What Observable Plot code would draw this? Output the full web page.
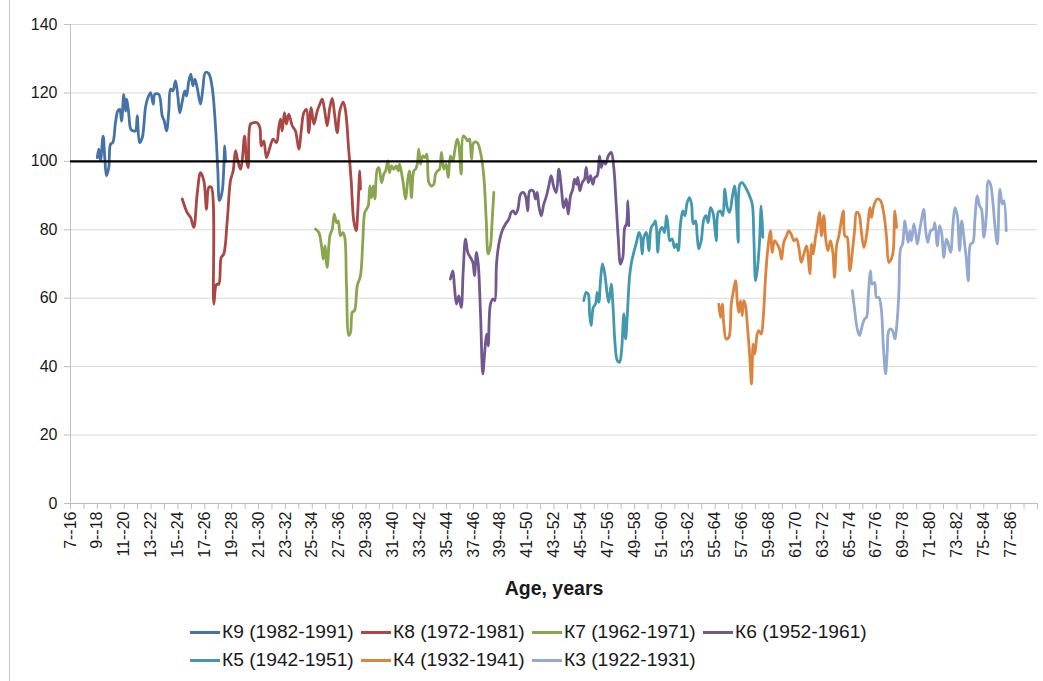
<!DOCTYPE html>
<html>
<head>
<meta charset="utf-8">
<script src="https://cdn.jsdelivr.net/npm/d3@7"></script>
<script src="https://cdn.jsdelivr.net/npm/@observablehq/plot@0.6"></script>
<style>
  html, body { margin: 0; padding: 0; background: #fff; }
  #wrap { position: relative; width: 1043px; height: 681px; overflow: hidden; font-family: "Liberation Sans", Arial, sans-serif; }
  #edge { position: absolute; left: 9px; top: 0; width: 1px; height: 681px; background: #c8c8c8; }
  #legend { position: absolute; left: 190px; top: 620px; display: grid; grid-template-columns: repeat(4, 171px); row-gap: 4px; font-size: 19.2px; color: #1a1a1a; }
  .item { display: flex; align-items: center; height: 24px; white-space: nowrap; }
  .sw { width: 30px; height: 3px; margin-right: 2px; }
</style>
</head>
<body>
<div id="wrap"><div id="chart"></div><div id="legend"></div><div id="edge"></div></div>
<script>
// ---- Tick labels (every other category is labelled) ----
const xLabels = ["7--16","9--18","11--20","13--22","15--24","17--26","19--28","21--30","23--32","25--34",
  "27--36","29--38","31--40","33--42","35--44","37--46","39--48","41--50","43--52","45--54","47--56",
  "49--58","51--60","53--62","55--64","57--66","59--68","61--70","63--72","65--74","67--76","69--78",
  "71--80","73--82","75--84","77--86"];
const yTicks = [0, 20, 40, 60, 80, 100, 120, 140];
const xFirst = 7, xLast = 79; // first and last category on the axis

// ---- Series names and colours ----
const seriesNames = ["К9 (1982-1991)","К8 (1972-1981)","К7 (1962-1971)","К6 (1952-1961)","К5 (1942-1951)","К4 (1932-1941)","К3 (1922-1931)"];
const seriesColors = ["#4572A7","#AA4643","#89A54E","#71588F","#4198AF","#DB843D","#93A9CF"];

// ---- Series values: [age position, value] ----
const k9 = [[8.99,101.1],[9.11,103.6],[9.23,100.1],[9.43,107.4],[9.55,101.1],[9.68,95.8],[9.85,98.2],[9.98,105],[10.15,105.5],[10.35,111.3],[10.52,114.7],[10.67,115.2],[10.80,111.8],[10.97,119.6],[11.10,114.7],[11.19,118.2],[11.34,113.8],[11.49,109.4],[11.67,108.9],[11.84,108.9],[11.97,113.3],[12.14,105.5],[12.34,106.9],[12.58,115.7],[12.73,118.2],[12.96,120.1],[13.16,116.7],[13.28,119.6],[13.57,119.6],[13.83,113.3],[13.98,111.8],[14.15,108.9],[14.32,114.7],[14.45,121.1],[14.62,120.6],[14.82,123.5],[14.99,119.1],[15.14,114.2],[15.32,117.5],[15.51,120.6],[15.64,119.1],[15.81,123.5],[15.96,125.5],[16.11,122.1],[16.26,124],[16.43,121.6],[16.68,116.7],[16.85,121.1],[17.05,126],[17.30,125.6],[17.55,121.6],[17.80,109.9],[17.97,97.2],[18.09,88.5],[18.30,91.4],[18.49,104.5],[18.54,100]];
const k8 = [[15.32,89],[15.69,85],[15.94,83.6],[16.18,80.7],[16.43,90.4],[16.68,96.7],[16.93,94.3],[17.13,86],[17.30,92.4],[17.48,92.4],[17.67,58.3],[17.87,64.1],[18.04,64.1],[18.22,71.9],[18.41,72.9],[18.67,82.6],[18.91,94.3],[19.11,97.2],[19.29,103.1],[19.46,100.1],[19.66,97.7],[19.78,100.1],[19.96,107.4],[20.11,100.1],[20.23,98.2],[20.40,110.9],[20.65,111.3],[20.90,111.3],[21.10,109.9],[21.20,104.5],[21.39,106],[21.59,101.1],[21.84,104],[22.09,106.5],[22.34,105.5],[22.51,109.9],[22.64,112.3],[22.76,108.9],[22.93,114.2],[23.08,110.9],[23.25,113.8],[23.51,110.4],[23.75,108.9],[24.00,103.6],[24.18,108.9],[24.37,114.2],[24.57,115.2],[24.74,108.4],[24.92,115.7],[25.12,110.9],[25.37,114.7],[25.56,116.7],[25.74,118.2],[25.91,115.2],[26.11,110.4],[26.31,115.7],[26.49,118.4],[26.66,113.8],[26.86,108.4],[27.05,114.7],[27.31,117.3],[27.48,114.7],[27.72,103.1],[27.90,94.3],[28.09,82.6],[28.27,79.7],[28.39,85.5],[28.54,97.2],[28.59,91.9]];
const k7 = [[25.24,80.2],[25.49,79.2],[25.69,75.3],[25.82,71.4],[25.94,75.3],[26.11,69],[26.31,78.2],[26.49,80.2],[26.64,84.6],[26.81,82.1],[26.93,82.6],[27.10,78.2],[27.28,79.2],[27.42,77.8],[27.55,63.6],[27.72,49.1],[27.85,50],[27.98,55.9],[28.15,56.4],[28.35,63.6],[28.59,66.6],[28.76,76.3],[28.91,85.1],[29.04,86],[29.17,87],[29.29,92.8],[29.41,89.4],[29.54,92.8],[29.66,89],[29.84,97.7],[29.96,98.2],[30.16,93.8],[30.33,96.3],[30.46,97.2],[30.63,100.1],[30.75,96.7],[30.90,98.7],[31.07,97.7],[31.25,98.7],[31.40,97.2],[31.50,99.2],[31.62,97.2],[31.77,93.8],[31.94,89],[32.12,94.8],[32.24,97.2],[32.39,89.4],[32.56,97.2],[32.69,97.7],[32.82,99.2],[32.93,103.6],[33.06,99.2],[33.23,101.6],[33.38,101.1],[33.53,102.1],[33.68,93.8],[33.88,92.8],[34.05,93.3],[34.18,96.3],[34.33,97.2],[34.48,97.7],[34.62,102.6],[34.80,97.7],[34.97,99.2],[35.12,95.3],[35.29,101.6],[35.47,100.1],[35.61,103.1],[35.79,106.5],[35.91,105],[36.09,96.3],[36.24,107.4],[36.41,106.9],[36.58,106],[36.71,106.5],[36.86,100.6],[37.03,105.5],[37.28,105.5],[37.53,102.6],[37.77,95.8],[37.95,83.1],[38.10,72.9],[38.27,75.3],[38.40,83.1],[38.52,90.9]];
const k6 = [[35.29,65.6],[35.47,68],[35.59,63.2],[35.74,58.3],[35.91,60.7],[36.09,57.3],[36.24,68],[36.41,77.3],[36.58,73.4],[36.78,71.9],[36.96,70.5],[37.08,66.6],[37.23,73.4],[37.36,70],[37.53,55.4],[37.70,37.9],[37.85,44.7],[37.98,49.5],[38.10,46.1],[38.27,58.3],[38.47,59.8],[38.59,59.3],[38.72,70],[38.89,75.8],[39.14,79.7],[39.39,81.7],[39.64,83.1],[39.81,85.1],[39.96,85.5],[40.13,84.6],[40.31,86],[40.51,90.4],[40.71,90.9],[40.88,89.9],[41.05,85.5],[41.20,91.4],[41.45,91.4],[41.62,89],[41.75,90.9],[41.87,87],[42.05,84.1],[42.24,87.5],[42.44,89.9],[42.61,92.8],[42.79,95.8],[42.99,92.4],[43.17,90.9],[43.36,97.7],[43.54,92.4],[43.73,86.5],[43.91,89],[44.06,84.6],[44.23,89.9],[44.40,91.9],[44.53,94.8],[44.68,93.3],[44.77,95.3],[44.92,91.4],[45.10,93.8],[45.27,94.8],[45.40,98.2],[45.55,93.8],[45.72,95.8],[45.89,93.3],[46.04,95.3],[46.22,95.8],[46.39,101.6],[46.52,98.2],[46.66,100.1],[46.84,99.2],[47.04,101.6],[47.26,102.6],[47.45,98.2],[47.63,87.5],[47.78,77.8],[47.95,70],[48.12,71.9],[48.27,80.7],[48.40,81.7],[48.50,88.5],[48.57,81.2]];
const k5 = [[45.22,59.3],[45.40,61.7],[45.55,61.2],[45.65,55.4],[45.77,52],[45.92,57.3],[46.09,58.3],[46.22,61.7],[46.34,58.8],[46.46,65.1],[46.61,70],[46.78,67.1],[46.96,61.2],[47.08,58.8],[47.26,64.1],[47.41,56.4],[47.53,47.6],[47.71,41.8],[47.88,41.3],[48.03,44.7],[48.20,55.4],[48.33,48.1],[48.45,54.4],[48.62,66.1],[48.77,70.5],[48.94,73.4],[49.14,76.3],[49.32,79.2],[49.44,78.2],[49.57,72.9],[49.69,77.8],[49.89,79.2],[50.06,73.9],[50.24,80.7],[50.43,81.7],[50.56,82.6],[50.73,73.4],[50.88,79.7],[51.06,80.7],[51.23,79.2],[51.38,84.1],[51.50,80.7],[51.62,76.8],[51.80,77.3],[51.97,74.8],[52.12,75.8],[52.25,73.9],[52.42,81.7],[52.59,85.5],[52.74,84.1],[52.92,88],[53.09,89.4],[53.24,87.5],[53.37,81.7],[53.54,82.6],[53.66,78.2],[53.78,74.4],[53.96,76.8],[54.16,83.1],[54.33,84.1],[54.48,82.1],[54.65,86.5],[54.83,85.1],[54.95,81.7],[55.08,76.8],[55.23,85.1],[55.40,85.5],[55.57,84.1],[55.72,91.9],[55.90,86.5],[56.07,85.1],[56.27,89.4],[56.44,92.8],[56.59,86.5],[56.72,76.3],[56.84,93.3],[57.01,93.8],[57.26,92.4],[57.51,90.4],[57.76,87.5],[57.88,77.8],[58.01,65.1],[58.13,68],[58.30,76.3],[58.43,87],[58.55,77.8]];
const k4 = [[55.27,58.3],[55.40,54.4],[55.53,58.3],[55.64,52.5],[55.82,48.1],[56.02,48.6],[56.20,58.3],[56.34,61.7],[56.52,65.1],[56.64,59.3],[56.76,55.9],[56.89,59.3],[57.01,54.9],[57.13,59.3],[57.26,57.8],[57.39,52.5],[57.58,42.7],[57.71,34.9],[57.83,46.6],[57.95,43.7],[58.13,49.5],[58.25,50.5],[58.43,49.5],[58.58,54.4],[58.75,66.1],[58.92,74.4],[59.12,79.7],[59.25,73.4],[59.42,76.8],[59.62,75.8],[59.79,74.4],[59.94,71.4],[60.11,76.3],[60.31,78.2],[60.48,79.7],[60.66,78.7],[60.86,76.8],[61.06,77.3],[61.23,74.8],[61.41,70.5],[61.60,72.9],[61.80,75.3],[61.93,71.9],[62.05,67.1],[62.18,75.8],[62.30,72.9],[62.47,77.8],[62.60,80.7],[62.77,85.1],[62.92,78.2],[63.09,84.1],[63.22,77.8],[63.39,73.9],[63.59,76.8],[63.76,73.4],[63.89,66.1],[64.04,75.3],[64.21,78.2],[64.39,82.6],[64.54,85.5],[64.66,78.2],[64.83,77.8],[64.91,75.3],[65.03,68],[65.21,73.4],[65.38,79.7],[65.53,85.1],[65.70,84.6],[65.88,79.7],[66.07,74.8],[66.25,77.8],[66.40,82.6],[66.52,86.5],[66.64,83.6],[66.81,87],[67.07,89],[67.31,88.5],[67.56,84.6],[67.76,77.8],[67.93,70.5],[68.11,71.4],[68.26,73.9],[68.38,85.5],[68.51,80.7]];
const k3 = [[65.21,62.2],[65.38,56.8],[65.58,51],[65.75,49.1],[65.95,52],[66.12,53.9],[66.27,54.4],[66.40,60.7],[66.57,68],[66.69,64.1],[66.87,64.6],[67.01,60.2],[67.19,60.2],[67.37,56.8],[67.52,46.1],[67.69,37.9],[67.81,44.2],[67.93,50.5],[68.11,51],[68.26,50],[68.38,48.1],[68.56,53.9],[68.68,61.7],[68.80,74.4],[68.95,75.8],[69.12,82.6],[69.25,79.2],[69.38,76.3],[69.49,79.7],[69.62,76.8],[69.79,81.7],[69.92,79.2],[70.05,75.8],[70.24,80.2],[70.42,84.1],[70.54,86],[70.66,80.2],[70.83,76.3],[71.04,79.7],[71.24,80.2],[71.36,82.1],[71.54,75.3],[71.71,81.2],[71.86,79.2],[72.03,71.9],[72.21,77.3],[72.33,76.3],[72.53,73.4],[72.70,81.2],[72.85,86.5],[73.03,84.1],[73.20,73.9],[73.35,82.6],[73.52,77.8],[73.70,71.4],[73.85,65.1],[74.01,75.8],[74.19,76.3],[74.34,83.1],[74.52,89.9],[74.69,87],[74.83,86],[75.01,77.8],[75.19,84.1],[75.34,94.3],[75.50,93.3],[75.68,88],[75.83,81.2],[76.01,75.8],[76.20,91.9],[76.38,87.5],[76.50,88.5],[76.67,79.7]];
const referenceLevel = 100;

const seriesData = [k9, k8, k7, k6, k5, k4, k3];
const rows = seriesData.flatMap((arr, i) => arr.map(([age, value]) => ({series: seriesNames[i], age, value})));

const labelPos = xLabels.map(s => parseInt(s, 10));
const labelMap = new Map(labelPos.map((p, i) => [p, xLabels[i]]));
const allTicks = d3.range(xFirst, xLast + 1);

const chart = Plot.plot({
  width: 1043,
  height: 606,
  marginLeft: 70,
  marginRight: 6,
  marginTop: 24,
  marginBottom: 103,
  x: {domain: [xFirst, xLast]},
  y: {domain: [0, 140]},
  color: {domain: seriesNames, range: seriesColors},
  style: {fontFamily: "'Liberation Sans', Arial, sans-serif", fontSize: "16px", color: "#1a1a1a", background: "white", overflow: "visible"},
  marks: [
    Plot.gridY(yTicks, {stroke: "#d9d9d9", strokeOpacity: 1, strokeWidth: 1}),
    Plot.axisY(yTicks, {tickSize: 6, tickPadding: 7, stroke: "#bfbfbf", fontSize: 16, label: null}),
    Plot.ruleX([xFirst], {stroke: "#bfbfbf"}),
    Plot.ruleY([0], {stroke: "#bfbfbf"}),
    Plot.axisX(allTicks, {tickSize: 6, tickFormat: () => "", stroke: "#bfbfbf", label: null}),
    Plot.axisX(labelPos, {tickSize: 0, tickPadding: 8, tickRotate: -90, tickFormat: d => labelMap.get(d), fontSize: 16, label: null}),
    Plot.line(rows, {x: "age", y: "value", z: "series", stroke: "series", strokeWidth: 2.8, curve: "catmull-rom"}),
    Plot.ruleY([referenceLevel], {stroke: "#000", strokeWidth: 2.2}),
    Plot.text(["Age, years"], {frameAnchor: "bottom", dy: 91, fontWeight: "bold", fontSize: 19.5, fill: "#1a1a1a"})
  ]
});
document.getElementById("chart").appendChild(chart);

const legend = document.getElementById("legend");
seriesNames.forEach((name, i) => {
  const it = document.createElement("div");
  it.className = "item";
  const sw = document.createElement("span");
  sw.className = "sw";
  sw.style.background = seriesColors[i];
  const tx = document.createElement("span");
  tx.textContent = name;
  it.appendChild(sw); it.appendChild(tx);
  legend.appendChild(it);
});
</script>
</body>
</html>
